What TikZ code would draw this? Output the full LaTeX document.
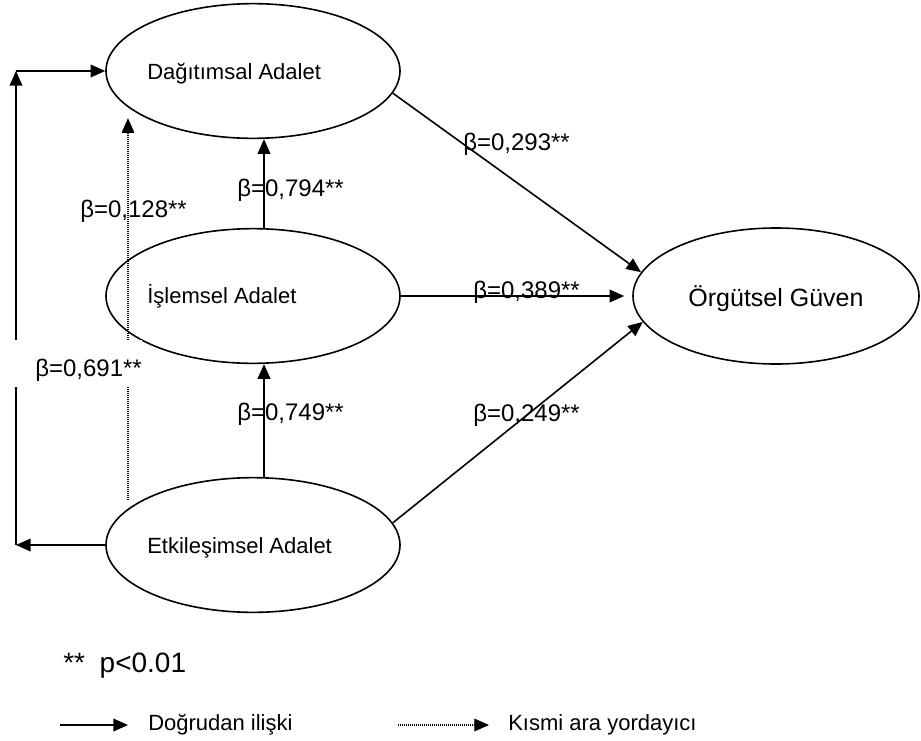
\documentclass[tikz,border=0pt]{standalone}
\usepackage{fontspec}
\setmainfont{Liberation Sans}
\usetikzlibrary{arrows.meta,shapes.geometric}

\begin{document}
\begin{tikzpicture}[x=0.75pt,y=-0.75pt,
  construct/.style={draw=black, line width=1.2pt, ellipse, inner sep=0pt,
    minimum width=220.5pt, minimum height=101pt},
  outcome/.style={construct, minimum width=214.5pt, minimum height=102pt},
  nametext/.style={anchor=base west, inner sep=0pt, font=\fontsize{16.5}{20}\selectfont},
  coef/.style={anchor=base west, inner sep=0pt, font=\fontsize{18}{22}\selectfont},
  legendtext/.style={anchor=base west, inner sep=0pt, font=\fontsize{16.5}{20}\selectfont},
  direct/.style={line width=1.2pt, -{Triangle[length=11pt,width=9.5pt]}},
  partial/.style={line width=0.9pt, dash pattern=on 0.75pt off 0.75pt,
    -{Triangle[length=11pt,width=9.5pt]}},
]
\useasboundingbox (0,0) rectangle (921,740);

% constructs
\node (d) [construct] at (253,71) {};
\node (i) [construct] at (253,296) {};
\node (e) [construct] at (253,545) {};
\node (o) [outcome] at (776,296) {};

\node (dt) [nametext] at (147,79) {Dağıtımsal Adalet};
\node (it) [nametext] at (147,303) {İşlemsel Adalet};
\node (et) [nametext] at (147,553) {Etkileşimsel Adalet};
\node (ot) [anchor=base, inner sep=0pt, font=\fontsize{18.75}{22}\selectfont]
  at (776,306) {Örgütsel Güven};

% paths from Etkileşimsel Adalet round the left side to Dağıtımsal Adalet
\coordinate (lb) at (16,545);
\coordinate (lt) at (16,71);
\draw[direct] (e.west) -- (lb);
\draw[direct] (lb) -- (lt);
\draw[direct] (lt) -- (d.west);

% partial mediation path
\draw[partial] ([xshift=-93.75pt,yshift=-17.25pt]e.north)
  -- ([xshift=-93.75pt,yshift=15.75pt]d.south);

% direct paths between the justice constructs
\draw[direct] ([xshift=8.25pt]i.north) -- ([xshift=8.25pt]d.south);
\draw[direct] ([xshift=8.25pt]e.north) -- ([xshift=8.25pt]i.south);

% paths to Örgütsel Güven
\draw[direct] (d.-9) -- (o.170);
\draw[direct, shorten >=6pt] (i.east) -- (o.west);
\draw[direct] (e.9) -- (o.191);

% coefficients
\node (c293) [coef] at (463,150) {β=0,293**};
\node (c389) [coef] at (473,298) {β=0,389**};
\node (c249) [coef] at (473,421) {β=0,249**};
\node (c794) [coef] at (237,196) {β=0,794**};
\node (c128) [coef] at (80,217) {β=0,128**};
\node (c749) [coef] at (237,420) {β=0,749**};
\node (c691) [coef, fill=white, text height=27pt, text depth=8.25pt]
  at (15,376) {\hspace{15pt}β=0,691**\hspace{24pt}};

% significance note
\node (sig) [anchor=base west, inner sep=0pt, font=\fontsize{21}{25}\selectfont]
  at (63,672) {**\hspace{11pt}p<0.01};

% legend
\coordinate (la) at (60,725);
\coordinate (lz) at (128,725);
\draw[direct] (la) -- (lz);
\node (lt1) [legendtext] at (148,730) {Doğrudan ilişki};
\coordinate (pa) at (398,725);
\coordinate (pz) at (489,725);
\draw[partial] (pa) -- (pz);
\node (lt2) [legendtext] at (508,730) {Kısmi ara yordayıcı};
\end{tikzpicture}
\end{document}
